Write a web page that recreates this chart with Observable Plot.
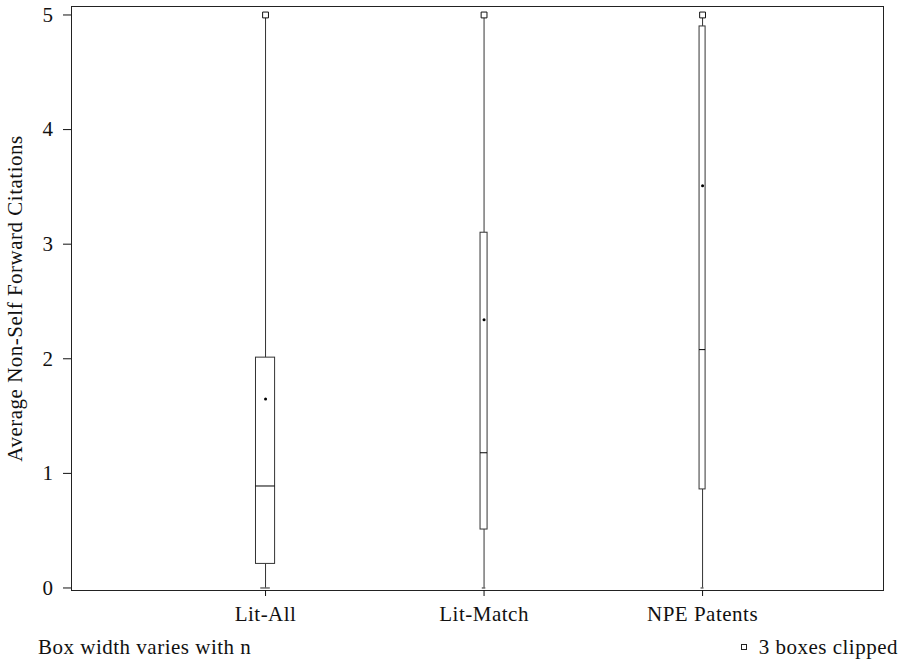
<!DOCTYPE html>
<html><head><meta charset="utf-8">
<script src="https://cdn.jsdelivr.net/npm/d3@7"></script>
<script src="https://cdn.jsdelivr.net/npm/@observablehq/plot@0.6"></script>
<style>
body{margin:0;background:#fff;}
#chart svg text{letter-spacing:0.5px;}
#footer{display:block;}
#footer text{font-family:"Liberation Serif",serif;font-size:21px;fill:#111;letter-spacing:0.5px;}
</style></head><body>
<div id="chart"></div>
<svg id="footer" width="905" height="36"></svg>
<script>
// Data
const categories = ["Lit-All", "Lit-Match", "NPE Patents"];
const q1 = [0.21, 0.51, 0.86];
const median = [0.89, 1.18, 2.08];
const q3 = [2.01, 3.10, 4.90];
const mean = [1.65, 2.34, 3.51];
const whiskerLow = [0, 0, 0];
const whiskerHigh = [5, 5, 5];        // upper whiskers run off the axis (clipped)
const relN = [361, 49, 36];           // relative group sizes (width ∝ sqrt n)
const yTicks = [0, 1, 2, 3, 4, 5];
const footLeft = "Box width varies with n";
const footRight = "3 boxes clipped";

const k = 0.0023;  // half-width per sqrt(n), in x units
const data = categories.map((c, i) => ({
  cat: c, pos: i + 1,
  hw: k * Math.sqrt(relN[i]),
  q1: q1[i], median: median[i], q3: q3[i], mean: mean[i],
  low: whiskerLow[i], high: whiskerHigh[i]
}));

const chart = Plot.plot({
  width: 905,
  height: 628,
  marginTop: 6,
  marginBottom: 38,
  marginLeft: 71,
  marginRight: 22,
  style: {fontFamily: "Liberation Serif, serif", fontSize: "21px", color: "#111", background: "#fff"},
  x: {type: "linear", domain: [0.112, 3.828]},
  y: {type: "linear", domain: [-0.022, 5.074]},
  marks: [
    Plot.ruleX(data, {x: "pos", y1: "q3", y2: "high", stroke: "#333", strokeWidth: 1}),
    Plot.ruleX(data, {x: "pos", y1: "low", y2: "q1", stroke: "#333", strokeWidth: 1}),
    Plot.ruleY(data, {x1: d => d.pos - d.hw * 0.5, x2: d => d.pos + d.hw * 0.5, y: "low", stroke: "#222"}),
    Plot.rect(data, {x1: d => d.pos - d.hw, x2: d => d.pos + d.hw, y1: "q1", y2: "q3", fill: "white", stroke: "#333", strokeWidth: 1}),
    Plot.ruleY(data, {x1: d => d.pos - d.hw, x2: d => d.pos + d.hw, y: "median", stroke: "#000", strokeWidth: 1}),
    Plot.dot(data, {x: "pos", y: "mean", r: 1.5, fill: "#000", stroke: null}),
    Plot.dot(data, {x: "pos", y: "high", symbol: "square", r: 3.3, fill: "white", stroke: "#111", strokeWidth: 1}),
    Plot.frame({stroke: "#222"}),
    Plot.axisY({ticks: yTicks, tickSize: 8, tickPadding: 10, tickFormat: d3.format("d"),
      label: "Average Non-Self Forward Citations", labelAnchor: "center", labelArrow: "none", labelOffset: 64}),
    Plot.axisX({ticks: [1, 2, 3], tickFormat: i => categories[i - 1], tickSize: 6, tickPadding: 10, label: null})
  ]
});
document.getElementById("chart").appendChild(chart);

const foot = d3.select("#footer");
foot.append("text").attr("x", 38).attr("y", 26).text(footLeft);
foot.append("rect").attr("x", 741.5).attr("y", 16.5).attr("width", 5).attr("height", 5)
  .attr("fill", "white").attr("stroke", "#222");
foot.append("text").attr("x", 898).attr("y", 26).attr("text-anchor", "end").text(footRight);
</script>
</body></html>
